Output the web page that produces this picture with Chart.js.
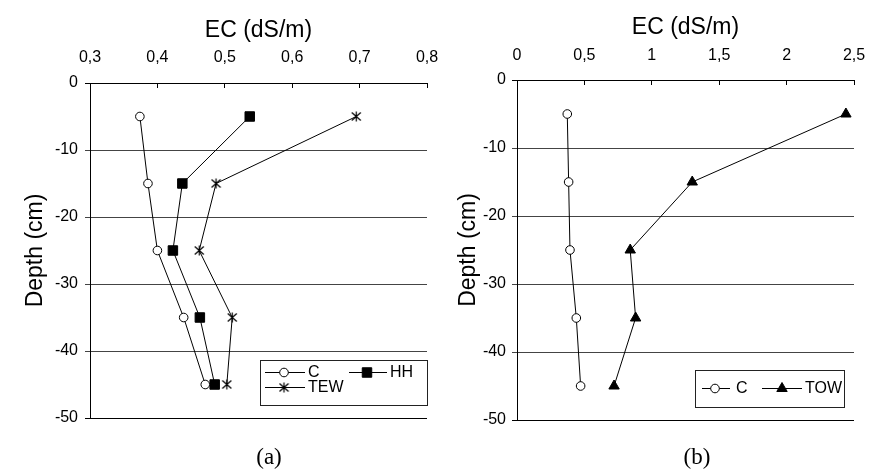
<!DOCTYPE html>
<html>
<head>
<meta charset="utf-8">
<script src="https://cdn.jsdelivr.net/npm/chart.js@4.4.1/dist/chart.umd.min.js"></script>
<style>
  body { margin: 0; background: #fff; width: 870px; height: 469px; position: relative; overflow: hidden; }
  .wrap { position: absolute; top: 0; height: 469px; }
  #wrapA { left: 0; width: 445px; }
  #wrapB { left: 445px; width: 425px; }
  .cap { position: absolute; top: 445px; font: 23px/23px 'Liberation Serif', 'Times New Roman', serif; color: #000; transform: translateX(-50%); }
</style>
</head>
<body>
<div class="wrap" id="wrapA"><canvas id="chartA" width="445" height="469"></canvas></div>
<div class="wrap" id="wrapB"><canvas id="chartB" width="425" height="469"></canvas></div>
<div class="cap" style="left:269px">(a)</div>
<div class="cap" style="left:697px">(b)</div>
<script>
// depth of each sample (cm)
const depths = [-5, -15, -25, -35, -45]

// panel (a) EC values (dS/m)
const ecA_C = [0.374, 0.386, 0.400, 0.439, 0.471]
const ecA_HH = [0.537, 0.437, 0.423, 0.463, 0.485]
const ecA_TEW = [0.695, 0.487, 0.462, 0.511, 0.503]

// panel (b) EC values (dS/m)
const ecB_C = [0.373, 0.383, 0.393, 0.440, 0.472]
const ecB_TOW = [2.44, 1.30, 0.84, 0.88, 0.72]

const FONT = "'Liberation Sans', Arial, sans-serif"

// excel-like star marker: X plus a vertical bar
function starMarker(size) {
  const c = document.createElement('canvas')
  c.width = size
  c.height = size
  const g = c.getContext('2d')
  g.strokeStyle = '#000'
  g.lineWidth = 1.2
  g.beginPath()
  g.moveTo(size / 2, 0.5); g.lineTo(size / 2, size - 0.5)
  g.moveTo(1, 1.5); g.lineTo(size - 1, size - 1.5)
  g.moveTo(size - 1, 1.5); g.lineTo(1, size - 1.5)
  g.stroke()
  return c
}
const star = starMarker(11)

const toPoints = (xs) => depths.map((d, i) => ({ x: xs[i], y: d }))
const commaTick = (v) => String(+v.toFixed(1)).replace('.', ',')

function series(label, xs, style) {
  return Object.assign({
    label: label,
    data: toPoints(xs),
    showLine: true,
    borderColor: '#000',
    borderWidth: 1,
    pointBorderColor: '#000',
    pointBackgroundColor: '#000',
    pointBorderWidth: 1,
  }, style)
}

const circle = { pointStyle: 'circle', pointRadius: 4.3, pointBackgroundColor: '#fff' }
const square = { pointStyle: 'rect', pointRadius: 6.7 }
const asterisk = { pointStyle: star, pointRadius: 5 }
const triangle = { pointStyle: 'triangle', pointRadius: 6 }

// legend drawn as a framed box inside the plot
const boxLegend = {
  id: 'boxLegend',
  afterDatasetsDraw(chart, args, opts) {
    const ctx = chart.ctx
    const b = opts.box
    ctx.save()
    ctx.fillStyle = '#fff'
    ctx.fillRect(b.x, b.y, b.w, b.h)
    ctx.strokeStyle = '#222'
    ctx.lineWidth = 1
    ctx.strokeRect(b.x + 0.5, b.y + 0.5, b.w, b.h)
    opts.items.forEach((it, i) => {
      const ds = chart.data.datasets[i]
      ctx.strokeStyle = '#000'
      ctx.lineWidth = 1
      ctx.beginPath()
      ctx.moveTo(it.x1, it.y + 0.5)
      ctx.lineTo(it.x2, it.y + 0.5)
      ctx.stroke()
      ctx.fillStyle = ds.pointBackgroundColor
      ctx.strokeStyle = ds.pointBorderColor
      ctx.lineWidth = ds.pointBorderWidth
      Chart.helpers.drawPoint(ctx, { pointStyle: ds.pointStyle, radius: ds.pointRadius, borderWidth: ds.pointBorderWidth, rotation: 0 }, it.mx, it.y + 0.5)
      ctx.fillStyle = '#000'
      ctx.font = '16px ' + FONT
      ctx.textBaseline = 'middle'
      ctx.textAlign = 'left'
      ctx.fillText(ds.label, it.tx, it.y + 1)
    })
    ctx.restore()
  }
}

function makeChart(id, datasets, cfg) {
  return new Chart(document.getElementById(id), {
    type: 'scatter',
    data: { datasets: datasets },
    options: {
      responsive: false,
      animation: false,
      devicePixelRatio: 1,
      layout: { padding: cfg.padding },
      scales: {
        x: {
          type: 'linear',
          position: 'top',
          min: cfg.xMin,
          max: cfg.xMax,
          ticks: { stepSize: cfg.xStep, callback: commaTick, color: '#000', font: { family: FONT, size: 16 }, padding: cfg.xTickPad },
          grid: { drawOnChartArea: false, drawTicks: true, tickLength: -5, color: '#000' },
          border: { color: '#000', width: 1 },
          title: { display: true, text: 'EC (dS/m)', color: '#000', font: { family: FONT, size: 23 }, padding: { top: cfg.xTitlePad, bottom: 0 } },
          afterFit: (s) => { s.height = cfg.top; s.paddingLeft = 0; s.paddingRight = 0 },
        },
        y: {
          type: 'linear',
          position: 'left',
          min: -50,
          max: 0,
          ticks: { stepSize: 10, color: '#000', font: { family: FONT, size: 16 }, padding: cfg.yTickPad },
          grid: { tickLength: 5, color: (c) => (c.tick && (c.tick.value === -50 || c.tick.value === 0)) ? '#000' : '#444' },
          border: { color: '#000', width: 1 },
          title: { display: true, text: 'Depth (cm)', color: '#000', font: { family: FONT, size: 23 }, padding: { top: cfg.yTitlePad, bottom: 0 } },
          afterFit: (s) => { s.width = cfg.left; s.paddingTop = 0; s.paddingBottom = 0 },
        },
      },
      plugins: {
        legend: { display: false },
        tooltip: { enabled: false },
        boxLegend: cfg.legend,
      },
    },
    plugins: [boxLegend],
  })
}

makeChart('chartA', [
  series('C', ecA_C, circle),
  series('HH', ecA_HH, square),
  series('TEW', ecA_TEW, asterisk),
], {
  padding: { left: 0, top: 0, right: 18, bottom: 51 },
  left: 90, top: 83,
  xMin: 0.3, xMax: 0.8, xStep: 0.1,
  xTickPad: 21, xTitlePad: 17, yTickPad: 7, yTitlePad: 22,
  legend: {
    box: { x: 260, y: 360, w: 167, h: 45 },
    items: [
      { x1: 265, x2: 305, mx: 284, y: 372, tx: 308 },
      { x1: 349, x2: 387, mx: 367, y: 372, tx: 390 },
      { x1: 265, x2: 305, mx: 284, y: 387, tx: 308 },
    ],
  },
})

makeChart('chartB', [
  series('C', ecB_C, circle),
  series('TOW', ecB_TOW, triangle),
], {
  padding: { left: 0, top: 0, right: 16, bottom: 49 },
  left: 72, top: 80,
  xMin: 0, xMax: 2.5, xStep: 0.5,
  xTickPad: 20, xTitlePad: 14, yTickPad: 6, yTitlePad: 10,
  legend: {
    box: { x: 250, y: 370, w: 149, h: 37 },
    items: [
      { x1: 257, x2: 285, mx: 270, y: 388, tx: 291 },
      { x1: 317, x2: 357, mx: 337, y: 388, tx: 360 },
    ],
  },
})
</script>
</body>
</html>
